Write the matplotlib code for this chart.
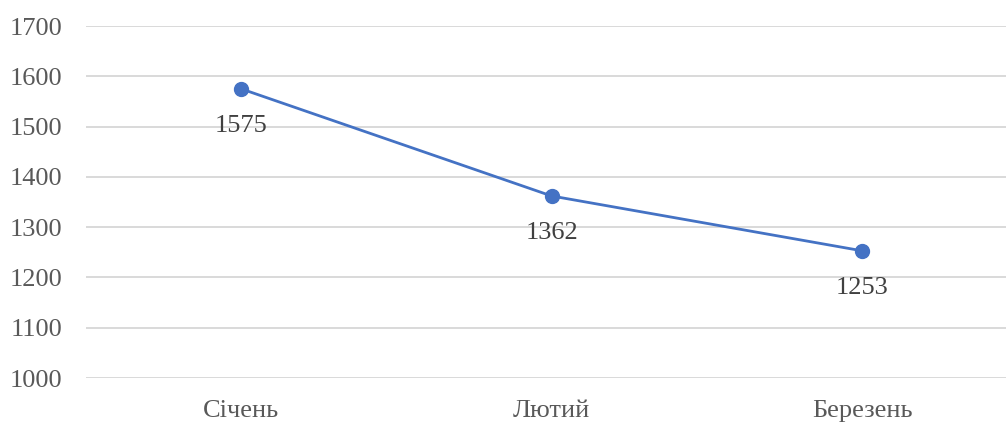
import matplotlib
matplotlib.use("Agg")
import matplotlib.pyplot as plt

months = ["Січень", "Лютий", "Березень"]
values = [1575, 1362, 1253]
y_ticks = [1000, 1100, 1200, 1300, 1400, 1500, 1600, 1700]

plt.rcParams['font.family'] = ['Liberation Serif', 'DejaVu Serif']

W, H = 1006, 423
fig = plt.figure(figsize=(W / 100, H / 100), dpi=100)
ax = fig.add_axes([86 / W, 45 / H, (W - 86) / W, 352 / H])

x = list(range(len(months)))
ax.plot(x, values, color="#4472C4", linewidth=2.0, marker="o",
        markersize=10, markerfacecolor="#4472C4", markeredgecolor="#4472C4",
        zorder=3)

for xi, v in zip(x, values):
    ax.annotate(f"{v}", (xi, v), xytext=(0, -27), textcoords="offset points",
                ha="center", va="center", fontsize=19, color="#404040")

ax.set_ylim(1000, 1700)
ax.set_xlim(-0.5, 2.464)
ax.set_yticks(y_ticks)
ax.set_xticks(x)
ax.set_xticklabels(months)
ax.grid(axis="y", color="#D9D9D9", linewidth=1.4)
ax.set_axisbelow(True)
for s in ax.spines.values():
    s.set_visible(False)
ax.tick_params(axis="both", length=0, labelsize=19, colors="#595959")
ax.tick_params(axis="y", pad=17)
ax.tick_params(axis="x", pad=16)

fig.savefig("out.png", dpi=100)
